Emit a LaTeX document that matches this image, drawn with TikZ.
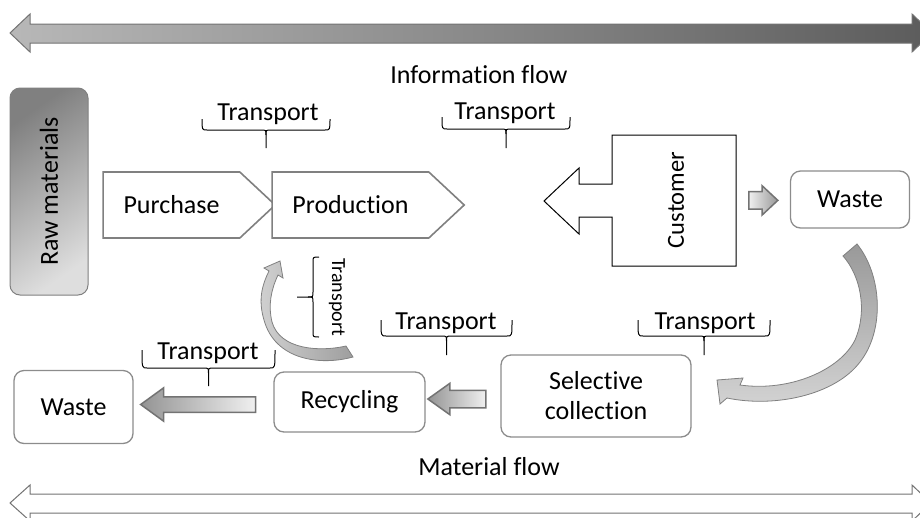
\documentclass[tikz,border=0pt]{standalone}
\usepackage{fontspec}
\setmainfont{Carlito}[Ligatures={NoCommon}]
\usetikzlibrary{positioning,calc,shapes.arrows,shapes.symbols}

\tikzset{
  box/.style={draw=black!45, line width=1.3pt, rounded corners=10pt, fill=white, align=center},
  chev/.style={signal, signal to=east, signal from=nowhere, signal pointer angle=86,
    draw=black!50, line width=1.6pt, fill=white},
  blockarr/.style={single arrow, shape border rotate=180, draw=black!55, line width=1.5pt,
    inner xsep=0pt, left color=black!42, right color=black!6},
  brc/.style={draw=black, line width=1pt},
  bendarr/.style={draw=black!50, line width=0.8pt},
  flowarr/.style={draw=black!55, line width=1pt},
}

% brace lying flat: left x, right x, top of the ends, line y, tip y
\newcommand{\hbrace}[5]{%
  \draw[brc] (#1,#3) .. controls (#1,#4) .. ({#1+5},#4) -- ({(#1+#2)/2-5},#4)
    .. controls ({(#1+#2)/2},#4) .. ({(#1+#2)/2},{#4+5}) -- ({(#1+#2)/2},#5);
  \draw[brc] (#2,#3) .. controls (#2,#4) .. ({#2-5},#4) -- ({(#1+#2)/2+5},#4)
    .. controls ({(#1+#2)/2},#4) .. ({(#1+#2)/2},{#4+5});
}
% standing brace: top y, bottom y, x of the ends, line x, tip x
\newcommand{\vbrace}[5]{%
  \draw[brc] (#3,#1) .. controls (#4,#1) .. (#4,{#1+5}) -- (#4,{(#1+#2)/2-5})
    .. controls (#4,{(#1+#2)/2}) .. ({#4-5},{(#1+#2)/2}) -- (#5,{(#1+#2)/2});
  \draw[brc] (#3,#2) .. controls (#4,#2) .. (#4,{#2-5}) -- (#4,{(#1+#2)/2+5})
    .. controls (#4,{(#1+#2)/2}) .. ({#4-5},{(#1+#2)/2});
}

\begin{document}
\begin{tikzpicture}[x=1pt, y=-1pt, font=\fontsize{26}{30}\selectfont]
  \useasboundingbox (0,0) rectangle (920,517);
  \clip (0,0) rectangle (920,517);

  % information flow
  \draw[flowarr, left color=black!28, right color=black!64]
    (10,33) -- (30,14) -- (30,24) -- (912,24) -- (912,14) -- (932,33)
    -- (912,52) -- (912,43) -- (30,43) -- (30,52) -- cycle;
  \node (info) at (479,75) {Information flow};

  % material flow
  \draw[flowarr, fill=white]
    (10,503) -- (30,485) -- (30,494) -- (912,494) -- (912,485) -- (931,503)
    -- (912,521) -- (912,513) -- (30,513) -- (30,521) -- cycle;
  \node (mat) at (489,467) {Material flow};

  % raw materials
  \node[draw=black!50, line width=1pt, rounded corners=10pt, minimum width=78pt,
    minimum height=207pt, top color=black!50, bottom color=black!13, shading angle=35]
    (raw) at (49,191.5) {\rotatebox{90}{Raw materials}};

  % purchase and production
  \node[chev, minimum width=172pt, minimum height=66pt] (purch) at (171.5,205) {Purchase};
  \node[chev, minimum width=192pt, minimum height=66pt] (prod) at (350.5,205) {Production};

  % customer
  \draw[line width=1pt, fill=white] (736,135) -- (612,135) -- (612,184) -- (579,184)
    -- (579,168) -- (544,201) -- (579,234) -- (579,217) -- (612,217)
    -- (612,266) -- (736,266) -- cycle;
  \node[font=\fontsize{24.5}{30}\selectfont] (cust) at (676,200) {\rotatebox{90}{Customer}};
  \coordinate (custR) at (736,201);

  % boxes
  \node[box, minimum width=119pt, minimum height=57pt] (wasteR) at (850,199.5) {Waste};
  \node[box, minimum width=190pt, minimum height=82pt] (coll) at (596,396) {Selective\\collection};
  \node[box, minimum width=151pt, minimum height=60pt] (recyc) at (349.5,402) {Recycling};
  \node[box, minimum width=119pt, minimum height=73pt] (wasteL) at (73.5,407) {Waste};

  % straight arrows
  \node[blockarr, shape border rotate=0, left color=black!6, right color=black!40,
    minimum height=29pt, inner ysep=8pt, single arrow head extend=6pt,
    single arrow tip angle=86] (a1) at ($(custR)!0.42!(wasteR.west)$) {};
  \node[blockarr, minimum height=58pt, inner ysep=8pt, single arrow head extend=7pt,
    single arrow tip angle=71] (a2) at ($(coll.west)!0.5!(recyc.east)$) {};
  \node[blockarr, minimum height=115pt, inner ysep=7pt, single arrow head extend=9pt,
    single arrow tip angle=72] (a3) at ($(recyc.west)!0.5!(wasteL.east)$) {};

  % curved arrows
  \draw[bendarr, top color=black!40, bottom color=black!17]
    (857,244) .. controls (882,275) and (885,330) .. (860,362)
    .. controls (835,395) and (775,408) .. (727,398)
    -- (720,404) -- (717,380) -- (743,378) -- (740,385)
    .. controls (790,392) and (840,370) .. (855,340)
    .. controls (868,310) and (860,275) .. (843,256) -- cycle;
  \draw[bendarr, left color=black!18, right color=black!38]
    (353,357) .. controls (320,366) and (275,360) .. (264,320)
    .. controls (258,300) and (262,285) .. (269,271)
    -- (264,268) -- (280,261) -- (283,278) -- (278,275)
    .. controls (271,290) and (268,305) .. (272,322)
    .. controls (280,350) and (320,352) .. (346,346) -- cycle;

  % transport labels
  \node (t1) at (268,114) {Transport};
  \node (t2) at (505,113) {Transport};
  \node (t3) at (446,323) {Transport};
  \node (t4) at (705,323) {Transport};
  \node (t5) at (208,353) {Transport};
  \node[font=\fontsize{20}{24}\selectfont] (t6) at (337,297) {\rotatebox{-90}{Transport}};
  \hbrace{202}{330}{119}{130}{148}
  \hbrace{442}{570}{117}{129}{148}
  \hbrace{381}{512}{320}{336}{355}
  \hbrace{638}{770}{320}{336}{355}
  \hbrace{142}{275}{350}{368}{386}
  \vbrace{257}{337}{319}{313}{297}
\end{tikzpicture}
\end{document}
